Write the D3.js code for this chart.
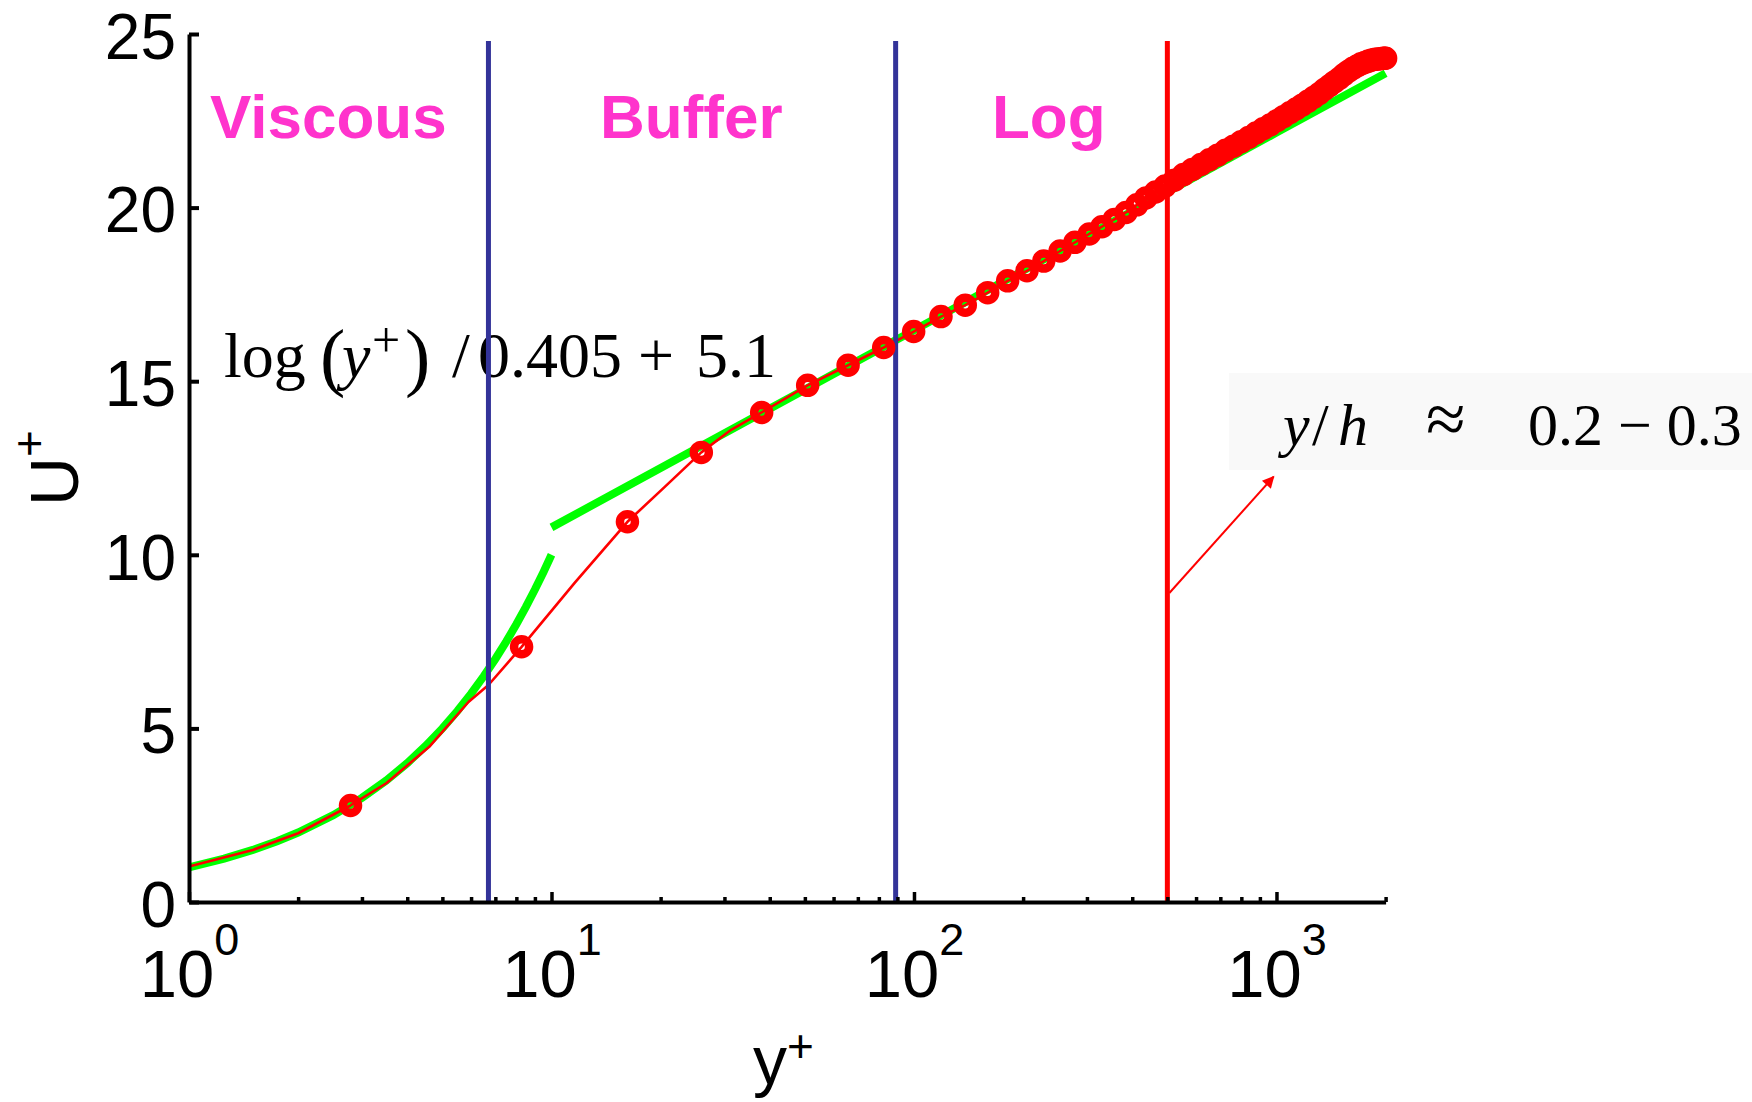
<!DOCTYPE html>
<html>
<head>
<meta charset="utf-8">
<script src="https://cdn.jsdelivr.net/npm/d3@7"></script>
<style>
  body { margin: 0; background: #ffffff; }
  svg { display: block; }
</style>
</head>
<body>
<svg id="chart" width="1752" height="1102"></svg>
<script>
// ---------- axis ticks ----------
const xTicksMajor = [1, 10, 100, 1000];
const xTickExponents = ["0", "1", "2", "3"];
const xTicksMinor = [2, 3, 4, 5, 6, 7, 8, 9,
                     20, 30, 40, 50, 60, 70, 80, 90,
                     200, 300, 400, 500, 600, 700, 800, 900, 2000];
const yTickValues = [0, 5, 10, 15, 20, 25];

// ---------- law of the wall ----------
// viscous sublayer: U+ = y+
const viscousYPlus = [1, 1.25, 1.5, 1.75, 2, 2.5, 3, 3.5, 4, 4.5, 5, 5.5, 6, 6.5, 7, 7.5, 8, 8.5, 9, 9.5, 10];
const viscousUPlus = [1, 1.25, 1.5, 1.75, 2, 2.5, 3, 3.5, 4, 4.5, 5, 5.5, 6, 6.5, 7, 7.5, 8, 8.5, 9, 9.5, 10];
// log law: log(y+)/0.405 + 5.1
const logLawYPlus = [10, 100, 1000, 2000];
const logLawUPlus = [10.79, 16.47, 22.16, 23.87];

// ---------- mean velocity profile ----------
// points shown with circle markers
const markerYPlus = [2.79, 8.27, 16.2, 25.9, 38.0, 50.9, 65.8, 82.5, 99.8, 118.7,
  138.5, 159.7, 181.3, 205, 228, 253, 278, 304.5, 330, 357,
  384.5, 412, 436.5, 464, 493, 523, 554, 586, 619, 653,
  688, 724, 761, 799, 838, 878, 919, 960, 1002, 1045,
  1088, 1132, 1176, 1220, 1265, 1310, 1355, 1400, 1445, 1490,
  1535, 1580, 1624, 1668, 1711, 1753, 1794, 1834, 1872, 1908,
  1940, 1968, 1990, 2000];
const markerUPlus = [2.78, 7.35, 10.95, 12.95, 14.10, 14.88, 15.46, 15.97, 16.43, 16.86,
  17.19, 17.55, 17.89, 18.18, 18.46, 18.75, 19.00, 19.24, 19.45, 19.66,
  19.86, 20.08, 20.28, 20.45, 20.62, 20.79, 20.95, 21.10, 21.24, 21.38,
  21.51, 21.65, 21.77, 21.90, 22.02, 22.15, 22.27, 22.38, 22.50, 22.62,
  22.73, 22.84, 22.95, 23.06, 23.17, 23.28, 23.40, 23.51, 23.62, 23.72,
  23.83, 23.93, 24.01, 24.08, 24.14, 24.18, 24.22, 24.25, 24.27, 24.28,
  24.29, 24.30, 24.30, 24.30];
// further profile points drawn by the line only
const lineOnlyYPlus = [1.0, 1.5, 2.0, 3.5, 4.6, 5.9, 6.7, 11.6, 20.5, 31.3];
const lineOnlyUPlus = [1.02, 1.5, 1.98, 3.42, 4.47, 5.76, 6.25, 9.2, 11.95, 13.6];

// ---------- regions ----------
const regionNames = ["Viscous", "Buffer", "Log"];
const regionBounds = [6.7, 89];
const outerBound = 500;
const boundTop = 24.8;

// ---------- layout ----------
const svg = d3.select("#chart");
const x = d3.scaleLog().domain([1, 2000]).range([189, 1385.6]);
const y = d3.scaleLinear().domain([0, 25]).range([902, 34]);

const sans = "'Liberation Sans', Arial, Helvetica, sans-serif";
const serif = "'Liberation Serif', 'Times New Roman', serif";

// ---------- law-of-the-wall curves ----------
const line = d3.line().x(d => x(d[0])).y(d => y(d[1]));

svg.append("path")
  .datum(d3.zip(viscousYPlus, viscousUPlus))
  .attr("d", line)
  .attr("fill", "none").attr("stroke", "#00ff00").attr("stroke-width", 8);

svg.append("path")
  .datum(d3.zip(logLawYPlus, logLawUPlus))
  .attr("d", line)
  .attr("fill", "none").attr("stroke", "#00ff00").attr("stroke-width", 8);

// ---------- profile line ----------
const profile = d3.zip(markerYPlus, markerUPlus)
  .concat(d3.zip(lineOnlyYPlus, lineOnlyUPlus))
  .sort((a, b) => a[0] - b[0]);

svg.append("path")
  .datum(profile)
  .attr("d", line)
  .attr("fill", "none").attr("stroke", "#ff0000").attr("stroke-width", 2.6)
  .attr("stroke-linejoin", "round");

// ---------- formula ----------
const formula = svg.append("text")
  .attr("y", 377)
  .attr("font-family", serif).attr("font-size", 64).attr("fill", "#000");
formula.append("tspan").attr("x", 224).text("log");
formula.append("tspan").attr("x", 320).attr("font-size", 76).attr("dy", 5).text("(");
formula.append("tspan").attr("x", 342).attr("dy", -5).attr("font-style", "italic").text("y");
formula.append("tspan").attr("x", 372).attr("font-size", 50).attr("dy", -20).text("+");
formula.append("tspan").attr("x", 405).attr("font-size", 76).attr("dy", 25).text(")");
formula.append("tspan").attr("x", 452).attr("dy", -5).text("/");
formula.append("tspan").attr("x", 478).text("0.405");
formula.append("tspan").attr("x", 638).text("+");
formula.append("tspan").attr("x", 696).text("5.1");

// ---------- region boundaries ----------
svg.selectAll("line.bound")
  .data(regionBounds)
  .join("line")
  .attr("class", "bound")
  .attr("x1", d => x(d)).attr("x2", d => x(d))
  .attr("y1", y(0)).attr("y2", y(boundTop))
  .attr("stroke", "#333399").attr("stroke-width", 5);

svg.append("line")
  .attr("x1", x(outerBound)).attr("x2", x(outerBound))
  .attr("y1", y(0)).attr("y2", y(boundTop))
  .attr("stroke", "#ff0000").attr("stroke-width", 5);

// ---------- markers ----------
svg.selectAll("circle.pt")
  .data(d3.zip(markerYPlus, markerUPlus))
  .join("circle")
  .attr("class", "pt")
  .attr("cx", d => x(d[0])).attr("cy", d => y(d[1]))
  .attr("r", 7.5)
  .attr("fill", "none").attr("stroke", "#ff0000").attr("stroke-width", 8.5);

// ---------- region labels ----------
const regionLabelX = [210, 600, 992];
svg.selectAll("text.region")
  .data(regionNames)
  .join("text")
  .attr("class", "region")
  .attr("x", (d, i) => regionLabelX[i]).attr("y", 138)
  .attr("font-family", sans).attr("font-weight", "bold").attr("font-size", 62)
  .attr("fill", "#ff33cc")
  .text(d => d);

// ---------- y/h annotation ----------
svg.append("rect")
  .attr("x", 1229).attr("y", 373).attr("width", 523).attr("height", 97)
  .attr("fill", "#f9f9f9");

const ann = svg.append("text")
  .attr("y", 445)
  .attr("font-family", serif).attr("font-size", 60).attr("fill", "#000");
ann.append("tspan").attr("x", 1283).attr("font-style", "italic").text("y");
ann.append("tspan").attr("x", 1312).text("/");
ann.append("tspan").attr("x", 1338).attr("font-style", "italic").text("h");
ann.append("tspan").attr("x", 1426).attr("font-size", 72).attr("dy", -2).text("\u2248");
ann.append("tspan").attr("x", 1528).attr("dy", 2).text("0.2 \u2212 0.3");

const defs = svg.append("defs");
defs.append("marker")
  .attr("id", "arrowhead")
  .attr("viewBox", "0 0 10 10").attr("refX", 9).attr("refY", 5)
  .attr("markerWidth", 7).attr("markerHeight", 6)
  .attr("markerUnits", "strokeWidth")
  .attr("orient", "auto")
  .append("path").attr("d", "M0,0 L10,5 L0,10 Z").attr("fill", "#ff0000");

svg.append("line")
  .attr("x1", x(outerBound) + 2).attr("y1", y(8.9))
  .attr("x2", x(982)).attr("y2", y(12.25))
  .attr("stroke", "#ff0000").attr("stroke-width", 2)
  .attr("marker-end", "url(#arrowhead)");

// ---------- axes ----------
const yAxis = svg.append("g")
  .attr("transform", `translate(${x(1)},0)`)
  .call(d3.axisLeft(y).tickValues(yTickValues).tickSize(-10).tickSizeOuter(0)
        .tickPadding(13).tickFormat(d3.format("d")));
yAxis.select(".domain").attr("stroke", "#000").attr("stroke-width", 4);
yAxis.selectAll(".tick line").attr("stroke", "#000").attr("stroke-width", 4);
yAxis.selectAll(".tick text")
  .attr("font-family", sans).attr("font-size", 64).attr("fill", "#000")
  .attr("dy", "0.38em");

const xAxis = svg.append("g")
  .attr("transform", `translate(0,${y(0)})`)
  .call(d3.axisBottom(x).tickValues(xTicksMajor.concat(xTicksMinor))
        .tickSize(-10).tickSizeOuter(0).tickFormat(() => ""));
xAxis.select(".domain").attr("stroke", "#000").attr("stroke-width", 4);
xAxis.selectAll(".tick line")
  .attr("stroke", "#000").attr("stroke-width", 3.5)
  .attr("y2", d => xTicksMajor.includes(d) ? -10 : -5);
xAxis.selectAll(".tick text")
  .attr("font-family", sans).attr("font-size", 67).attr("fill", "#000")
  .attr("y", 95).attr("dy", 0)
  .each(function (d) {
    const i = xTicksMajor.indexOf(d);
    if (i < 0) return;
    const t = d3.select(this);
    t.append("tspan").text("10");
    t.append("tspan").attr("font-size", 45).attr("dy", -42).text(xTickExponents[i]);
  });

// ---------- axis titles ----------
const xTitle = svg.append("text")
  .attr("x", 753).attr("y", 1084)
  .attr("font-family", sans).attr("font-size", 68).attr("fill", "#000");
xTitle.append("tspan").text("y");
xTitle.append("tspan").attr("font-size", 46).attr("dy", -22).text("+");

const yTitle = svg.append("text")
  .attr("transform", "translate(78,506) rotate(-90)")
  .attr("font-family", sans).attr("font-size", 68).attr("fill", "#000");
yTitle.append("tspan").text("U");
yTitle.append("tspan").attr("font-size", 46).attr("dy", -33).text("+");
</script>
</body>
</html>
